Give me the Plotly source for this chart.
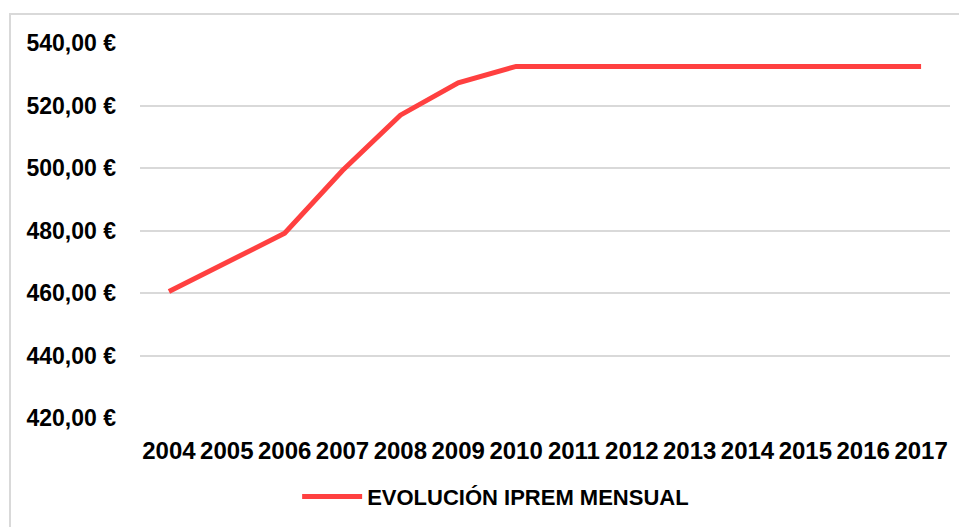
import plotly.graph_objects as go

years = [str(y) for y in range(2004, 2018)]
iprem_mensual = [460.50, 469.80, 479.10, 499.20, 516.90, 527.24, 532.51,
                 532.51, 532.51, 532.51, 532.51, 532.51, 532.51, 532.51]
y_ticks = [420, 440, 460, 480, 500, 520, 540]
y_tick_text = [f"{v:.2f}".replace(".", ",") + " €" for v in y_ticks]
series_name = "EVOLUCIÓN IPREM MENSUAL"

font_family = "Liberation Sans, Arial, sans-serif"

fig = go.Figure()
fig.add_trace(
    go.Scatter(
        x=years,
        y=iprem_mensual,
        mode="lines",
        name=series_name,
        line=dict(color="#FF4040", width=5),
    )
)

fig.update_layout(
    width=967,
    height=527,
    margin=dict(l=132, r=25, t=35, b=117),
    paper_bgcolor="white",
    plot_bgcolor="white",
    font=dict(family=font_family, color="black"),
    showlegend=True,
    legend=dict(
        orientation="h",
        x=0.194,
        xanchor="left",
        y=-0.21,
        yanchor="middle",
        font=dict(size=22, family=font_family, color="black", weight="bold"),
        itemwidth=60,
    ),
    xaxis=dict(
        type="category",
        range=[-0.5, 13.5],
        showgrid=False,
        showline=False,
        zeroline=False,
        ticks="",
        tickfont=dict(size=24, weight="bold"),
        ticklabelstandoff=16,
    ),
    yaxis=dict(
        range=[420, 540],
        tickvals=y_ticks,
        ticktext=y_tick_text,
        showgrid=True,
        gridcolor="#D9D9D9",
        gridwidth=2,
        zeroline=False,
        showline=False,
        ticks="",
        tickfont=dict(size=23, weight="bold"),
        ticklabelstandoff=23,
    ),
    shapes=[
        dict(
            type="rect",
            xref="paper",
            yref="paper",
            x0=-0.1605,
            x1=1.05,
            y0=-0.5,
            y1=1.0773,
            line=dict(color="#D9D9D9", width=2),
            fillcolor="rgba(0,0,0,0)",
            layer="below",
        )
    ],
)

fig.write_html("out.html")
